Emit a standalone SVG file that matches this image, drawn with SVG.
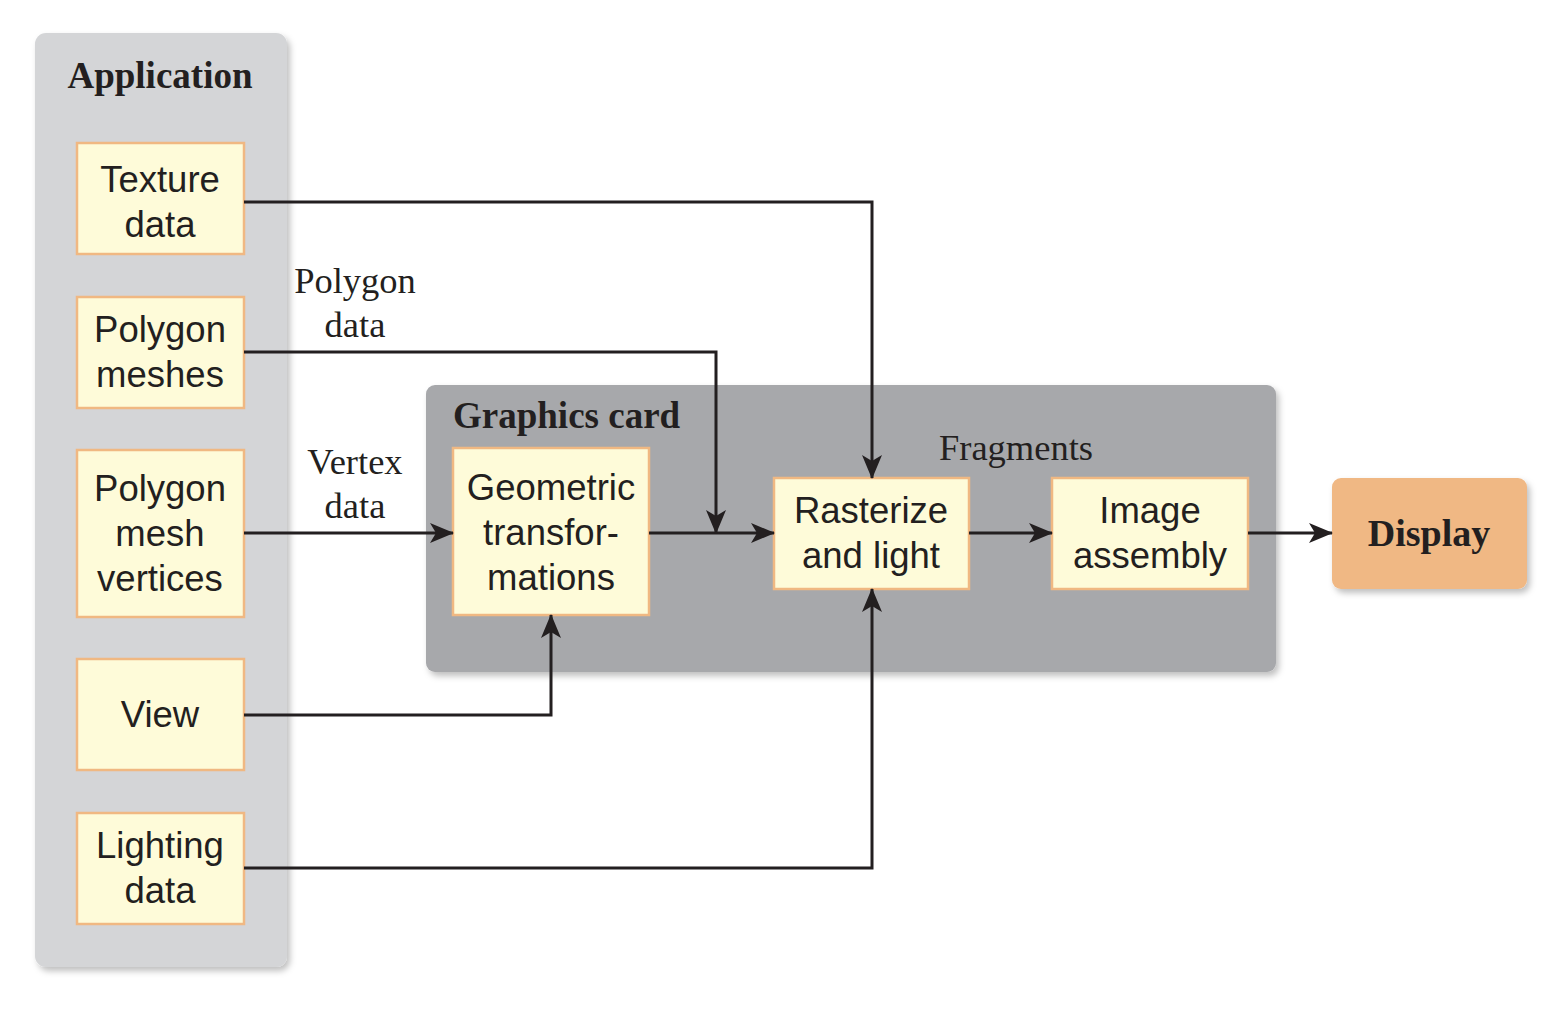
<svg xmlns="http://www.w3.org/2000/svg" width="1568" height="1016" viewBox="0 0 1568 1016">
<defs>
<filter id="sh" x="-10%" y="-10%" width="130%" height="130%">
<feDropShadow dx="3" dy="4" stdDeviation="3" flood-color="#000" flood-opacity="0.25"/>
</filter>
<marker id="ah" viewBox="0 0 24 20" refX="23" refY="10" markerWidth="24" markerHeight="20" markerUnits="userSpaceOnUse" orient="auto">
<path d="M0,0 L24,10 L0,20 L6,10 Z" fill="#231f20"/>
</marker>
</defs>
<style>
.panel{stroke:none}
.box{fill:#fefbd9;stroke:#f0b882;stroke-width:2.5}
.nt{font-family:"Liberation Sans",Arial,sans-serif;font-size:36.5px;fill:#231f20;text-anchor:middle}
.tt{font-family:"Liberation Serif","Times New Roman",serif;font-size:37px;font-weight:bold;fill:#231f20}
.lb{font-family:"Liberation Serif","Times New Roman",serif;font-size:36.5px;fill:#231f20;text-anchor:middle}
.cn{fill:none;stroke:#231f20;stroke-width:3;marker-end:url(#ah)}
</style>
<rect width="1568" height="1016" fill="#ffffff"/>

<g id="application">
<rect class="panel" x="35" y="33" width="252" height="934" rx="11" fill="#d4d5d7" filter="url(#sh)"/>
<text class="tt" x="160" y="88" text-anchor="middle">Application</text>
</g>

<g id="graphics-card">
<rect class="panel" x="426" y="385" width="850" height="287" rx="9" fill="#a7a8ab" filter="url(#sh)"/>
<text class="tt" x="453" y="428">Graphics card</text>
</g>

<g id="texture-data">
<rect class="box" x="77" y="143" width="167" height="111"/>
<text class="nt" x="160" y="192">Texture</text>
<text class="nt" x="160" y="237">data</text>
</g>
<g id="polygon-meshes">
<rect class="box" x="77" y="297" width="167" height="111"/>
<text class="nt" x="160" y="342">Polygon</text>
<text class="nt" x="160" y="387">meshes</text>
</g>
<g id="polygon-mesh-vertices">
<rect class="box" x="77" y="450" width="167" height="167"/>
<text class="nt" x="160" y="501">Polygon</text>
<text class="nt" x="160" y="546">mesh</text>
<text class="nt" x="160" y="591">vertices</text>
</g>
<g id="view">
<rect class="box" x="77" y="659" width="167" height="111"/>
<text class="nt" x="160" y="727">View</text>
</g>
<g id="lighting-data">
<rect class="box" x="77" y="813" width="167" height="111"/>
<text class="nt" x="160" y="858">Lighting</text>
<text class="nt" x="160" y="903">data</text>
</g>

<g id="geometric-transformations">
<rect class="box" x="453" y="448" width="196" height="167"/>
<text class="nt" x="551" y="500">Geometric</text>
<text class="nt" x="551" y="545">transfor-</text>
<text class="nt" x="551" y="590">mations</text>
</g>
<g id="rasterize-and-light">
<rect class="box" x="774" y="478" width="195" height="111"/>
<text class="nt" x="871" y="523">Rasterize</text>
<text class="nt" x="871" y="568">and light</text>
</g>
<g id="image-assembly">
<rect class="box" x="1052" y="478" width="196" height="111"/>
<text class="nt" x="1150" y="523">Image</text>
<text class="nt" x="1150" y="568">assembly</text>
</g>
<g id="display">
<rect x="1332" y="478" width="195" height="111" rx="9" fill="#f0b884" filter="url(#sh)"/>
<text class="tt" x="1429" y="546" text-anchor="middle" style="font-size:38px">Display</text>
</g>

<g id="connectors">
<polyline class="cn" points="244,202 872,202 872,478"/>
<polyline class="cn" points="244,352 716,352 716,533"/>
<polyline class="cn" points="244,533 453,533"/>
<polyline class="cn" points="649,533 774,533"/>
<polyline class="cn" points="969,533 1052,533"/>
<polyline class="cn" points="1248,533 1332,533"/>
<polyline class="cn" points="244,715 551,715 551,615"/>
<polyline class="cn" points="244,868 872,868 872,589"/>
</g>

<g id="labels">
<text class="lb" x="355" y="293">Polygon</text>
<text class="lb" x="355" y="337">data</text>
<text class="lb" x="355" y="474">Vertex</text>
<text class="lb" x="355" y="518">data</text>
<text class="lb" x="1016" y="460">Fragments</text>
</g>
</svg>
